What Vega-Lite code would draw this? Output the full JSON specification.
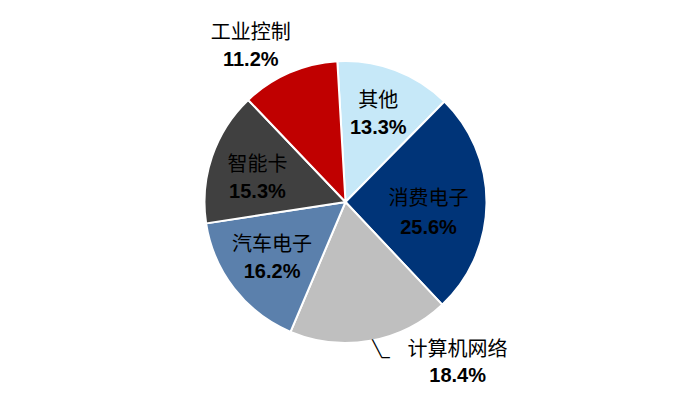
{
  "$schema": "https://vega.github.io/schema/vega-lite/v6.json",
  "autosize": {"type": "fit", "contains": "padding"},
  "width": 691,
  "height": 410,
  "background": "white",
  "config": {"view": {"stroke": null}},
  "data": {
    "values": [
      {"name": "其他", "share": 13.3, "label": "13.3%"},
      {"name": "消费电子", "share": 25.6, "label": "25.6%"},
      {"name": "计算机网络", "share": 18.4, "label": "18.4%"},
      {"name": "汽车电子", "share": 16.2, "label": "16.2%"},
      {"name": "智能卡", "share": 15.3, "label": "15.3%"},
      {"name": "工业控制", "share": 11.2, "label": "11.2%"}
    ]
  },
  "transform": [
    {"window": [{"op": "row_number", "as": "idx"}]}
  ],
  "encoding": {
    "theta": {
      "field": "share",
      "type": "quantitative",
      "stack": true,
      "scale": {"range": [-0.058, 6.2252]}
    },
    "order": {"field": "idx", "type": "quantitative"}
  },
  "layer": [
    {
      "mark": {"type": "arc", "outerRadius": 141, "stroke": "white", "strokeWidth": 2},
      "encoding": {
        "color": {
          "field": "name",
          "type": "nominal",
          "legend": null,
          "scale": {
            "domain": ["其他", "消费电子", "计算机网络", "汽车电子", "智能卡", "工业控制"],
            "range": ["#c6e8f8", "#003478", "#bfbfbf", "#5b80ac", "#404040", "#c00000"]
          }
        }
      }
    },
    {
      "mark": {"type": "text", "radius": 93, "dy": -14, "font": "Noto Sans CJK SC", "fontSize": 20, "color": "black"},
      "encoding": {
        "text": {"condition": {"test": "datum.name != '其他' && datum.name != '汽车电子'", "value": ""}, "field": "name"}
      }
    },
    {
      "mark": {"type": "text", "radius": 93, "dy": 13, "font": "Liberation Sans", "fontWeight": "bold", "fontSize": 20, "color": "black"},
      "encoding": {
        "text": {"condition": {"test": "datum.name != '其他' && datum.name != '汽车电子'", "value": ""}, "field": "label"}
      }
    },
    {
      "mark": {"type": "text", "radius": 83, "dy": -4, "font": "Noto Sans CJK SC", "fontSize": 20, "color": "black"},
      "encoding": {
        "text": {"condition": {"test": "datum.name != '消费电子'", "value": ""}, "field": "name"}
      }
    },
    {
      "mark": {"type": "text", "radius": 83, "dy": 25, "font": "Liberation Sans", "fontWeight": "bold", "fontSize": 20, "color": "black"},
      "encoding": {
        "text": {"condition": {"test": "datum.name != '消费电子'", "value": ""}, "field": "label"}
      }
    },
    {
      "mark": {"type": "text", "radius": 93, "dy": -7, "font": "Noto Sans CJK SC", "fontSize": 20, "color": "black"},
      "encoding": {
        "text": {"condition": {"test": "datum.name != '智能卡'", "value": ""}, "field": "name"}
      }
    },
    {
      "mark": {"type": "text", "radius": 93, "dy": 20, "font": "Liberation Sans", "fontWeight": "bold", "fontSize": 20, "color": "black"},
      "encoding": {
        "text": {"condition": {"test": "datum.name != '智能卡'", "value": ""}, "field": "label"}
      }
    },
    {
      "mark": {"type": "text", "radius": 180, "dx": -23, "dy": -4, "font": "Noto Sans CJK SC", "fontSize": 20, "color": "black"},
      "encoding": {
        "text": {"condition": {"test": "datum.name != '工业控制'", "value": ""}, "field": "name"}
      }
    },
    {
      "mark": {"type": "text", "radius": 180, "dx": -23, "dy": 23, "font": "Liberation Sans", "fontWeight": "bold", "fontSize": 20, "color": "black"},
      "encoding": {
        "text": {"condition": {"test": "datum.name != '工业控制'", "value": ""}, "field": "label"}
      }
    },
    {
      "mark": {"type": "text", "radius": 165, "dx": 83, "dy": -14, "font": "Noto Sans CJK SC", "fontSize": 20, "color": "black"},
      "encoding": {
        "text": {"condition": {"test": "datum.name != '计算机网络'", "value": ""}, "field": "name"}
      }
    },
    {
      "mark": {"type": "text", "radius": 165, "dx": 83, "dy": 12, "font": "Liberation Sans", "fontWeight": "bold", "fontSize": 20, "color": "black"},
      "encoding": {
        "text": {"condition": {"test": "datum.name != '计算机网络'", "value": ""}, "field": "label"}
      }
    },
    {
      "mark": {"type": "text", "radius": 150, "dx": 9, "dy": -1, "font": "DejaVu Sans", "fontSize": 16, "color": "black"},
      "encoding": {
        "text": {"condition": {"test": "datum.name != '计算机网络'", "value": ""}, "value": "╲_"}
      }
    }
  ]
}
